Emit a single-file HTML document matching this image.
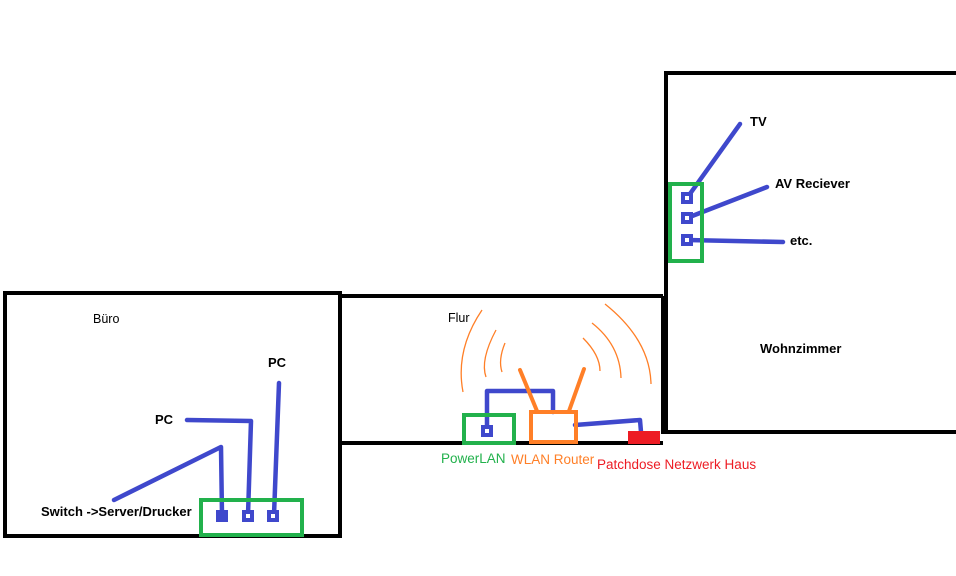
<!DOCTYPE html>
<html><head><meta charset="utf-8"><style>
html,body{margin:0;padding:0;background:#fff;width:956px;height:576px;overflow:hidden}
svg{display:block}
text{font-family:"Liberation Sans",sans-serif;font-size:12.5px}
.b{font-weight:bold;font-size:13px}
.c{font-size:13.5px}
</style></head><body>
<svg width="956" height="576" viewBox="0 0 956 576">
<g fill="none" stroke="#000" stroke-width="4">
<rect x="5" y="293" width="335" height="243"/>
<path d="M341 296 H663 M341 443 H663 M663 296 V434"/>
<path d="M956 73 H666 V432 H956"/>
</g>
<g fill="none" stroke="#3f48cc" stroke-width="4.5" stroke-linecap="round" stroke-linejoin="round">
<path d="M114 500 L221 447 L222 515"/>
<path d="M187 420 L251 421 L248 515"/>
<path d="M279 383 L274 515"/>
<path d="M487 428 V391 H553 V412"/>
<path d="M575 425 L640 420 L641 432"/>
<path d="M687 198 L740 124"/>
<path d="M687 218 L767 187"/>
<path d="M687 240 L783 242"/>
</g>
<rect x="201" y="500" width="101" height="35" fill="none" stroke="#22b14c" stroke-width="4"/>
<rect x="216" y="510" width="12" height="12" fill="#3f48cc"/>
<rect x="242" y="510" width="12" height="12" fill="#3f48cc"/><rect x="246" y="514" width="4" height="4" fill="#fff"/>
<rect x="267" y="510" width="12" height="12" fill="#3f48cc"/><rect x="271" y="514" width="4" height="4" fill="#fff"/>
<rect x="464" y="415" width="50" height="28" fill="none" stroke="#22b14c" stroke-width="4"/>
<rect x="481" y="425" width="12" height="12" fill="#3f48cc"/><rect x="485" y="429" width="4" height="4" fill="#fff"/>
<g fill="none" stroke="#ff7f27" stroke-width="4" stroke-linecap="round">
<rect x="531" y="412" width="45" height="30"/>
<path d="M520 370 L537 411 M584 369 L569 411"/>
</g>
<g fill="none" stroke="#ff7f27" stroke-width="1.3">
<path d="M482 310 Q455 350 463 392"/>
<path d="M496 330 Q480 360 486 377"/>
<path d="M505 343 Q498 360 502 372"/>
<path d="M605 304 Q650 340 651 384"/>
<path d="M592 323 Q620 345 621 378"/>
<path d="M583 338 Q600 355 600 371"/>
</g>
<rect x="628" y="431" width="32" height="13" fill="#ed1c24"/>
<rect x="670" y="184" width="32" height="77" fill="none" stroke="#22b14c" stroke-width="4"/>
<rect x="681" y="192" width="12" height="12" fill="#3f48cc"/><rect x="685" y="196" width="4" height="4" fill="#fff"/>
<rect x="681" y="212" width="12" height="12" fill="#3f48cc"/><rect x="685" y="216" width="4" height="4" fill="#fff"/>
<rect x="681" y="234" width="12" height="12" fill="#3f48cc"/><rect x="685" y="238" width="4" height="4" fill="#fff"/>
<text x="93" y="323">Büro</text>
<text x="448" y="322">Flur</text>
<text class="b" x="268" y="367">PC</text>
<text class="b" x="155" y="424">PC</text>
<text class="b" x="41" y="516">Switch -&gt;Server/Drucker</text>
<text class="b" x="750" y="126">TV</text>
<text class="b" x="775" y="188">AV Reciever</text>
<text class="b" x="790" y="245">etc.</text>
<text class="b" x="760" y="353">Wohnzimmer</text>
<text class="c" x="441" y="463" fill="#22b14c">PowerLAN</text>
<text class="c" x="511" y="464" fill="#ff7f27">WLAN Router</text>
<text class="c" x="597" y="469" fill="#ed1c24">Patchdose Netzwerk Haus</text>
</svg>
</body></html>
